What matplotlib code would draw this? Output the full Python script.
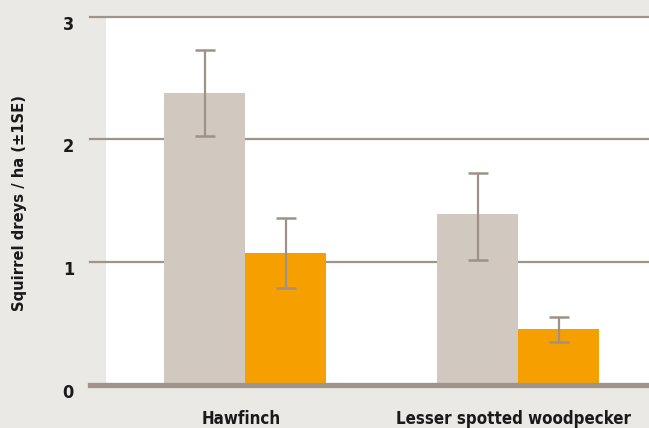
import matplotlib
matplotlib.use("Agg")
import matplotlib.pyplot as plt
import numpy as np
from matplotlib.transforms import offset_copy
from matplotlib import font_manager

categories = ["Hawfinch", "Lesser spotted woodpecker"]
grey_vals = [2.38, 1.39]
grey_lo = [2.03, 1.02]
grey_hi = [2.73, 1.73]
orange_vals = [1.07, 0.45]
orange_lo = [0.79, 0.345]
orange_hi = [1.36, 0.55]
yticks = [0, 1, 2, 3]

BG = "#EBE9E5"
GREY = "#D1C9C0"
ORANGE = "#F5A000"
LINE = "#A09488"
ERR = "#9E9288"

names = {f.name for f in font_manager.fontManager.ttflist}
if "DejaVu Sans Condensed" in names:
    FONT = ["DejaVu Sans Condensed", "DejaVu Sans"]
else:
    FONT = ["DejaVu Sans"]
stretch = "condensed"

fig = plt.figure(figsize=(6.49, 4.28), dpi=100, facecolor=BG)
W, H = 649, 428
ax = fig.add_axes([106 / W, (H - 384.5) / H, 1 - 106 / W, (384.5 - 17) / H])
ax.set_facecolor("white")

x = np.arange(len(categories)) * 273.0
bw = 81
ax.set_xlim(106 - 245, 649 - 245)
ax.set_ylim(0, 3)

ext = -16 / 543
for t in yticks[1:]:
    ax.axhline(t, xmin=ext, xmax=1, color=LINE, lw=1.6, clip_on=False, zorder=1)
ax.axhline(0, xmin=ext, xmax=1, color=LINE, lw=3.8, clip_on=False, zorder=4)

ax.bar(x - bw / 2, grey_vals, width=bw, color=GREY, zorder=2)
ax.bar(x + bw / 2, orange_vals, width=bw, color=ORANGE, zorder=2)

g_err = [np.array(grey_vals) - np.array(grey_lo), np.array(grey_hi) - np.array(grey_vals)]
o_err = [np.array(orange_vals) - np.array(orange_lo), np.array(orange_hi) - np.array(orange_vals)]
for xs, v, e in [(x - bw / 2, grey_vals, g_err), (x + bw / 2, orange_vals, o_err)]:
    ax.errorbar(xs, v, yerr=e, fmt="none", ecolor=ERR, elinewidth=1.6,
                capsize=7.2, capthick=1.8, zorder=3)

for s in ax.spines.values():
    s.set_visible(False)
ax.set_xticks([])
ax.set_yticks([])

TXT = "#1a1a1a"
for t in yticks:
    tr = offset_copy(ax.get_yaxis_transform(), fig=fig, x=-32 * 0.72, y=-8 * 0.72, units="points")
    ax.text(0, t, str(t), transform=tr, ha="right", va="center", fontsize=13,
            fontweight="bold", family=FONT, fontstretch=stretch, color=TXT)

for xi, c in zip(x, categories):
    tr = offset_copy(ax.get_xaxis_transform(), fig=fig, x=0, y=-34 * 0.72, units="points")
    ax.text(xi - 4, 0, c, transform=tr, ha="center", va="center", fontsize=12.2,
            fontweight="bold", family=FONT, fontstretch=stretch, color=TXT)

fig.text(20 / W, 1 - 203 / H, "Squirrel dreys / ha (±1SE)", rotation=90, ha="center",
         va="center", fontsize=11.8, fontweight="bold", family=FONT, fontstretch=stretch,
         color=TXT)

fig.savefig("out.png", dpi=100, facecolor=BG)
